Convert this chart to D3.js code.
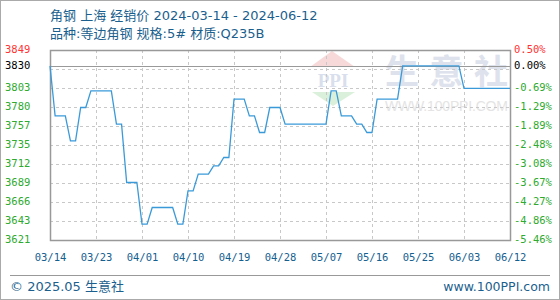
<!DOCTYPE html>
<html>
<head>
<meta charset="utf-8">
<script src="https://cdn.jsdelivr.net/npm/d3@7"></script>
<style>
  body { margin: 0; background: #fff; }
  svg { display: block; }
</style>
</head>
<body>
<div id="chart"></div>
<script>
// price series, one value per calendar day from 2024-03-14 to 2024-06-12
var startDate = "2024-03-14";
var endDate = "2024-06-12";
var prices = [
  3830, 3770, 3770, 3770, 3740, 3740, 3780, 3780, 3800, 3800,
  3800, 3800, 3800, 3760, 3760, 3690, 3690, 3690, 3640, 3640,
  3660, 3660, 3660, 3660, 3660, 3640, 3640, 3680, 3680, 3700,
  3700, 3700, 3710, 3710, 3720, 3720, 3790, 3790, 3790, 3770,
  3770, 3750, 3750, 3780, 3780, 3780, 3760, 3760, 3760, 3760,
  3760, 3760, 3760, 3760, 3760, 3800, 3800, 3770, 3770, 3770,
  3760, 3760, 3750, 3750, 3790, 3790, 3790, 3790, 3790, 3830,
  3830, 3830, 3830, 3830, 3830, 3830, 3830, 3830, 3830, 3830,
  3830, 3803, 3803, 3803, 3803, 3803, 3803, 3803, 3803, 3803,
  3803
];
var basePrice = 3830;
var yDomain = [3621, 3849];

var xTickLabels = ["03/14", "03/23", "04/01", "04/10", "04/19", "04/28",
  "05/07", "05/16", "05/25", "06/03", "06/12"];

var yTickValues = [3849, 3830, 3803.4, 3780.6, 3757.8, 3735, 3712.2, 3689.4, 3666.6, 3643.8, 3621];
var yTickLabels = ["3849", "3830", "3803", "3780", "3757", "3735", "3712", "3689", "3666", "3643", "3621"];
var pctTickLabels = ["0.50%", "0.00%", "-0.69%", "-1.29%", "-1.89%", "-2.48%", "-3.08%", "-3.67%", "-4.27%", "-4.86%", "-5.46%"];
var yGridValues = [3826.2, 3803.4, 3780.6, 3757.8, 3735, 3712.2, 3689.4, 3666.6, 3643.8];

var titleLine1 = "角钢 上海 经销价 2024-03-14 - 2024-06-12";
var titleLine2 = "品种:等边角钢 规格:5# 材质:Q235B";

var W = 560, H = 300;
var margin = { top: 50, right: 50, bottom: 60, left: 50 };
var plotW = W - margin.left - margin.right;
var plotH = H - margin.top - margin.bottom;

var parse = d3.timeParse("%Y-%m-%d");
var t0 = parse(startDate), t1 = parse(endDate);
var days = d3.timeDay.range(t0, d3.timeDay.offset(t1, 1));
var data = days.map(function (d, i) { return { date: d, price: prices[i] }; });
var xTicks = xTickLabels.map(function (s) { return parse("2024-" + s.replace("/", "-")); });

var labelColor = function (i) { return i == 0 ? "#ff3333" : (i == 1 ? "#000" : "#2eaa2e"); };

var svg = d3.select("#chart").append("svg").attr("width", W).attr("height", H);

// outer frame
svg.append("rect")
  .attr("x", 0.5).attr("y", 0.5).attr("width", W - 1).attr("height", H - 1)
  .attr("fill", "#fff").attr("stroke", "#aaa");

// titles
svg.append("text").attr("x", 50).attr("y", 20)
  .style("font-family", "'DejaVu Sans', 'Noto Sans CJK SC'").style("font-size", "13px")
  .attr("fill", "#1b5f8e").text(titleLine1);
svg.append("text").attr("x", 50).attr("y", 38)
  .style("font-family", "'DejaVu Sans', 'Noto Sans CJK SC'").style("font-size", "13px")
  .attr("fill", "#1b5f8e").text(titleLine2);

var x = d3.scaleTime().domain([t0, t1]).range([margin.left, margin.left + plotW]);
var y = d3.scaleLinear().domain(yDomain).range([margin.top + plotH, margin.top]);

// watermark
var wm = svg.append("g");
wm.append("path")
  .attr("d", "M310,67 L332,51 L355,67 Z").attr("fill", "#f7d9d9");
wm.append("text").attr("x", 333).attr("y", 87).attr("text-anchor", "middle")
  .style("font-family", "'Liberation Serif'").style("font-weight", "bold")
  .style("font-size", "19px").attr("fill", "#d9dfec").text("PPI");
wm.append("path")
  .attr("d", "M312,92 L355,92 L333,106 Z").attr("fill", "#daf0da");
wm.append("text").attr("x", 385).attr("y", 84)
  .style("font-family", "'Noto Sans CJK SC'").style("font-size", "34px")
  .style("font-weight", "bold")
  .attr("textLength", 123).attr("fill", "#dde2ec").text("生意社");
wm.append("text").attr("x", 385).attr("y", 111)
  .style("font-family", "'Liberation Sans'").style("font-size", "14px")
  .attr("textLength", 123).attr("fill", "#e4e4e4").text("WWW.100PPI.COM");

// gridlines
var grid = svg.append("g");
grid.selectAll(".hg").data(yGridValues).enter().append("line")
  .attr("x1", margin.left).attr("x2", margin.left + plotW)
  .attr("y1", function (d) { return Math.round(y(d)) + 0.5; })
  .attr("y2", function (d) { return Math.round(y(d)) + 0.5; })
  .attr("stroke", "#c8c8c8").attr("stroke-dasharray", "3,3");

var xAxis = d3.axisBottom(x).tickValues(xTicks).tickSize(plotH)
  .tickFormat(d3.timeFormat("%m/%d"));
var xg = svg.append("g").attr("transform", "translate(0," + margin.top + ")").call(xAxis);
xg.select(".domain").remove();
xg.selectAll(".tick line").attr("stroke", "#c8c8c8").attr("stroke-dasharray", "3,3");
xg.selectAll(".tick text")
  .attr("y", plotH + 21).attr("dy", null)
  .style("font-family", "'DejaVu Sans Mono'").style("font-size", "10.5px")
  .attr("fill", "#15608f");

// base line
svg.append("line")
  .attr("x1", margin.left).attr("x2", margin.left + plotW)
  .attr("y1", Math.round(y(basePrice)) + 0.5).attr("y2", Math.round(y(basePrice)) + 0.5)
  .attr("stroke", "#999");

// plot frame
svg.append("rect")
  .attr("x", margin.left + 0.5).attr("y", margin.top + 0.5)
  .attr("width", plotW).attr("height", plotH)
  .attr("fill", "none").attr("stroke", "#999").attr("stroke-width", 1.5);

// price line
svg.append("path").datum(data)
  .attr("d", d3.line().x(function (d) { return x(d.date); }).y(function (d) { return y(d.price); }))
  .attr("fill", "none").attr("stroke", "#3a9ad9").attr("stroke-width", 1.3);

// left labels
svg.append("g").selectAll("text").data(yTickValues).enter().append("text")
  .attr("x", 5).attr("y", function (d) { return y(d) + 3; })
  .style("font-family", "'DejaVu Sans Mono'").style("font-size", "10.5px")
  .attr("fill", function (d, i) { return labelColor(i); })
  .text(function (d, i) { return yTickLabels[i]; });

// right labels
svg.append("g").selectAll("text").data(yTickValues).enter().append("text")
  .attr("x", 514).attr("y", function (d) { return y(d) + 3; })
  .style("font-family", "'DejaVu Sans Mono'").style("font-size", "10.5px")
  .attr("fill", function (d, i) { return labelColor(i); })
  .text(function (d, i) { return pctTickLabels[i]; });

// footer
svg.append("line").attr("x1", 10).attr("x2", 550).attr("y1", 275.5).attr("y2", 275.5)
  .attr("stroke", "#999");
svg.append("text").attr("x", 10).attr("y", 291)
  .style("font-family", "'DejaVu Sans', 'Noto Sans CJK SC'").style("font-size", "13px")
  .attr("fill", "#1b5f8e").text("© 2025.05 生意社");
svg.append("text").attr("x", 550).attr("y", 291).attr("text-anchor", "end")
  .style("font-family", "'DejaVu Sans'").style("font-size", "12.5px")
  .attr("fill", "#1b5f8e").text("www.100PPI.com");
</script>
</body>
</html>
